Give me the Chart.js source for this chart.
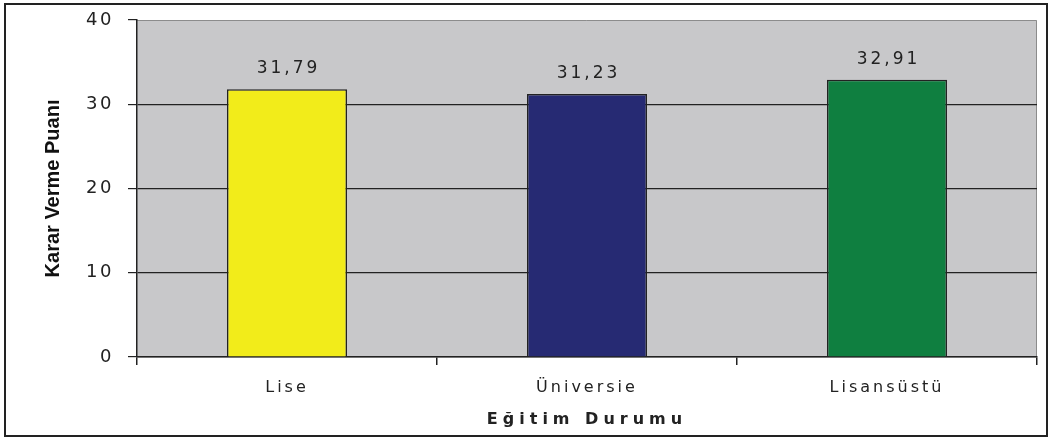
<!DOCTYPE html>
<html>
<head>
<meta charset="utf-8">
<script src="https://cdn.jsdelivr.net/npm/chart.js@4/dist/chart.umd.min.js"></script>
<style>
  html, body { margin: 0; padding: 0; background: #fff; }
  #wrap { width: 1052px; height: 439px; }
</style>
</head>
<body>
<div id="wrap"><canvas id="graphique"></canvas></div>
<script>
// Données du graphique
const categories = ["Lise", "Üniversie", "Lisansüstü"]
const puanlar = [31.79, 31.23, 32.91]
const couleurs = ["#F2EC1A", "#262A73", "#0F7F40"]
const yTicks = [0, 10, 20, 30, 40]

// Espacement des lettres : on enveloppe le dessin des étiquettes et du titre de chaque axe
function espacer(labelsSp, titleSp) {
  return (s) => {
    if (s._espace) return
    s._espace = true
    const drawLabels = s.drawLabels
    const drawTitle = s.drawTitle
    s.drawLabels = function (a) {
      this.ctx.letterSpacing = labelsSp
      drawLabels.call(this, a)
      this.ctx.letterSpacing = "0px"
    }
    s.drawTitle = function () {
      this.ctx.letterSpacing = titleSp
      drawTitle.call(this)
      this.ctx.letterSpacing = "0px"
    }
  }
}

// Fond gris de la zone de tracé + cadre extérieur
const cadrePlugin = {
  id: "cadre",
  beforeDraw(chart) {
    const { ctx, chartArea: a } = chart
    ctx.save()
    ctx.fillStyle = "#fff"
    ctx.fillRect(0, 0, chart.width, chart.height)
    ctx.fillStyle = "#C8C8CA"
    ctx.fillRect(a.left, a.top, a.right - a.left, a.bottom - a.top)
    ctx.strokeStyle = "#8c8c8c"
    ctx.lineWidth = 1
    ctx.beginPath()
    ctx.moveTo(a.left, a.top + 0.5)
    ctx.lineTo(a.right - 0.5, a.top + 0.5)
    ctx.lineTo(a.right - 0.5, a.bottom)
    ctx.stroke()
    ctx.strokeStyle = "#222"
    ctx.lineWidth = 2
    ctx.strokeRect(5, 4, 1042, 432)
    ctx.restore()
  },
}

// Étiquettes de valeur au-dessus des barres
const etiquettesPlugin = {
  id: "etiquettes",
  afterDatasetsDraw(chart) {
    const { ctx } = chart
    const meta = chart.getDatasetMeta(0)
    ctx.save()
    ctx.font = "17px 'DejaVu Sans'"
    ctx.letterSpacing = "3px"
    ctx.fillStyle = "#222"
    ctx.textAlign = "center"
    ctx.textBaseline = "alphabetic"
    meta.data.forEach((bar, i) => {
      ctx.fillText(puanlar[i].toFixed(2).replace(".", ","), bar.x + 1.5, bar.y - 16)
    })
    ctx.restore()
  },
}

const config = {
  type: "bar",
  data: {
    labels: categories,
    datasets: [
      {
        data: puanlar,
        backgroundColor: couleurs,
        borderColor: "#222",
        borderWidth: 1.5,
        barPercentage: 0.4,
        categoryPercentage: 1,
      },
    ],
  },
  options: {
    responsive: true,
    maintainAspectRatio: false,
    animation: false,
    layout: { padding: { top: 20, right: 15, left: 10, bottom: 10 } },
    plugins: { legend: { display: false }, tooltip: { enabled: false } },
    scales: {
      x: {
        afterFit: (s) => {
          s.height = 72
          s.paddingLeft = 0
          s.paddingRight = 0
        },
        afterUpdate: espacer("3px", "5px"),
        grid: {
          offset: true,
          drawOnChartArea: false,
          tickLength: 8,
          color: "#222",
          lineWidth: 1.5,
        },
        border: { color: "#222", width: 1.5 },
        ticks: {
          font: { family: "'DejaVu Sans'", size: 16 },
          color: "#222",
          padding: 13,
        },
        title: {
          display: true,
          text: "Eğitim Durumu",
          font: { family: "'DejaVu Sans'", size: 16, weight: "bold" },
          color: "#222",
          padding: { top: 6, bottom: 0 },
        },
      },
      y: {
        min: 0,
        max: 40,
        afterFit: (s) => {
          s.width = 127
          s.paddingTop = 0
          s.paddingBottom = 0
        },
        afterUpdate: espacer("2.5px", "0px"),
        afterBuildTicks: (s) => { s.ticks = yTicks.map((v) => ({ value: v })) },
        grid: {
          color: (c) => (c.tick && c.tick.value === 40 ? "rgba(0,0,0,0)" : "#222"),
          tickColor: "#222",
          tickLength: 9,
          lineWidth: 1.2,
        },
        border: { color: "#222", width: 1.5 },
        ticks: {
          font: { family: "'DejaVu Sans'", size: 18 },
          color: "#222",
          padding: 14,
        },
        title: {
          display: true,
          text: "Karar Verme Puanı",
          font: { family: "'Liberation Sans Narrow', 'Liberation Sans'", size: 20, weight: "bold" },
          color: "#111",
          padding: { top: 31, bottom: 0 },
        },
      },
    },
  },
  plugins: [cadrePlugin, etiquettesPlugin],
}

new Chart(document.querySelector("#graphique"), config)
</script>
</body>
</html>
